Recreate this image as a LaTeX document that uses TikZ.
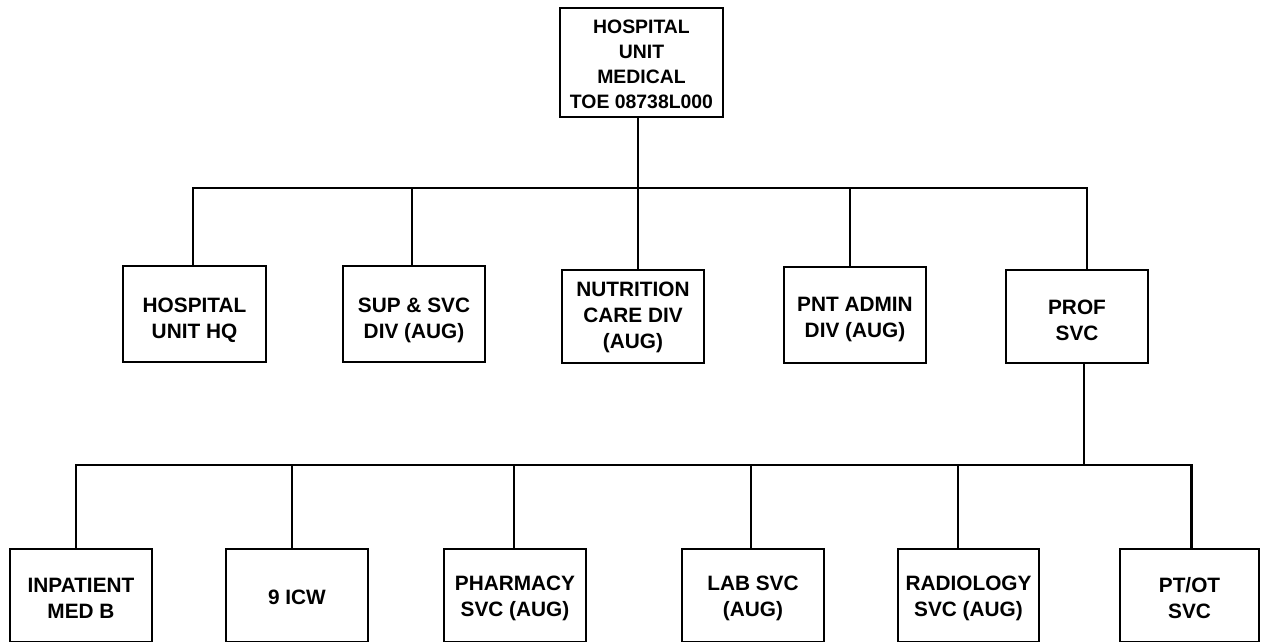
\documentclass[tikz,border=0pt]{standalone}
\usepackage{fontspec}
\setmainfont{Liberation Sans}
\begin{document}
\begin{tikzpicture}[x=1pt,y=-1pt,
  box/.style={draw, line width=2.6pt, inner sep=0pt, minimum width=142pt, minimum height=94pt},
  topbox/.style={draw, line width=2.6pt, inner sep=0pt, minimum width=163pt, minimum height=109pt},
  txt/.style={align=center, inner sep=0pt, font=\fontsize{20.8}{26}\selectfont\bfseries},
  toptxt/.style={align=center, inner sep=0pt, font=\fontsize{19.4}{25}\selectfont\bfseries},
  conn/.style={line width=2.4pt}]
\useasboundingbox (0,0) rectangle (1261,642);
% top
\node[topbox] (top) at (641.5,62.5) {};
\node[toptxt] (top-t) at ([yshift=-2pt]top.center) {HOSPITAL\\UNIT\\MEDICAL\\TOE 08738L000};
% middle row
\node[box, minimum width=143pt, minimum height=96pt] (hq) at (194.5,314) {};
\node[txt] (hq-t) at ([yshift=-6pt]hq.center) {HOSPITAL\\UNIT HQ};
\node[box, minimum height=96pt] (sup) at (414,314) {};
\node[txt] (sup-t) at ([yshift=-6pt]sup.center) {SUP \& SVC\\DIV (AUG)};
\node[box, minimum height=93pt] (nut) at (633,316.5) {};
\node[txt] (nut-t) at ([yshift=-0.5pt]nut.center) {NUTRITION\\CARE DIV\\(AUG)};
\node[box, minimum height=96pt] (pnt) at (855,315) {};
\node[txt] (pnt-t) at ([yshift=-5pt]pnt.center) {PNT ADMIN\\DIV (AUG)};
\node[box, minimum height=93pt] (prof) at (1077,316.5) {};
\node[txt] (prof-t) at ([yshift=-3.5pt]prof.center) {PROF\\SVC};
% bottom row
\node[box, minimum height=93pt] (inp) at (81,595.5) {};
\node[txt] (inp-t) at ([yshift=-2.5pt]inp.center) {INPATIENT\\MED B};
\node[box, minimum height=93pt] (icw) at (297,595.5) {};
\node[txt] (icw-t) at ([yshift=-1.5pt]icw.center) {9 ICW};
\node[box, minimum height=93pt] (pha) at (515,595.5) {};
\node[txt] (pha-t) at ([yshift=-2.5pt]pha.center) {PHARMACY\\SVC (AUG)};
\node[box, minimum height=93pt] (lab) at (753,595.5) {};
\node[txt] (lab-t) at ([yshift=-2.5pt]lab.center) {LAB SVC\\(AUG)};
\node[box, minimum height=93pt, minimum width=141pt] (rad) at (968.5,595.5) {};
\node[txt] (rad-t) at ([yshift=-2.5pt]rad.center) {RADIOLOGY\\SVC (AUG)};
\node[box, minimum height=93pt, minimum width=139pt] (pt) at (1189.5,595.5) {};
\node[txt] (pt-t) at ([yshift=-2.5pt]pt.center) {PT/OT\\SVC};
% bus levels
\coordinate (b1) at (0,188);
\coordinate (b2) at (0,465);
% top connectors
\draw[conn] ([xshift=-3.5pt]top.south) -- ([xshift=-3.5pt]top.south |- b1);
\draw[conn] ([xshift=-1.5pt]hq.north) |- ([xshift=10pt]prof.north |- b1) -- ([xshift=10pt]prof.north);
\draw[conn] ([xshift=-2pt]sup.north) -- ([xshift=-2pt]sup.north |- b1);
\draw[conn] ([xshift=5pt]nut.north) -- ([xshift=5pt]nut.north |- b1);
\draw[conn] ([xshift=-5pt]pnt.north) -- ([xshift=-5pt]pnt.north |- b1);
% bottom connectors
\draw[conn] ([xshift=7pt]prof.south) -- ([xshift=7pt]prof.south |- b2);
\draw[conn] ([xshift=-5pt]inp.north) |- ([xshift=2pt]pt.north |- b2) -- ([xshift=2pt]pt.north);
\draw[conn] ([xshift=-5pt]icw.north) -- ([xshift=-5pt]icw.north |- b2);
\draw[conn] ([xshift=-1pt]pha.north) -- ([xshift=-1pt]pha.north |- b2);
\draw[conn] ([xshift=-2pt]lab.north) -- ([xshift=-2pt]lab.north |- b2);
\draw[conn] ([xshift=-10.5pt]rad.north) -- ([xshift=-10.5pt]rad.north |- b2);
\end{tikzpicture}
\end{document}
